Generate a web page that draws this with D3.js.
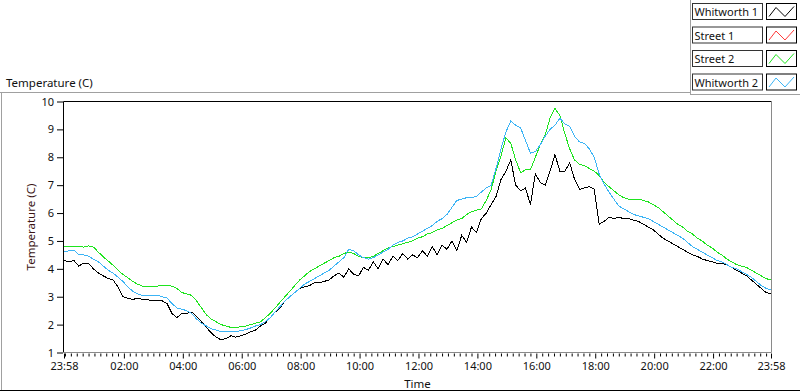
<!DOCTYPE html>
<html>
<head>
<meta charset="utf-8">
<script src="https://cdn.jsdelivr.net/npm/d3@7"></script>
<style>
  body { margin: 0; background: #fff; }
  svg { display: block; }
  text { font-family: "Noto Sans", "Open Sans", sans-serif; }
</style>
</head>
<body>
<svg id="chart" width="800" height="392"></svg>
<script>
/* logged temperatures, one reading every 10 minutes from 23:58 */
const stepMinutes = 10;

const whitworth1 = [
  4.3, 4.25, 4.3, 4.1, 4.2, 4.2, 4.0, 3.85, 3.75, 3.65, 3.6, 3.35, 3.0, 2.95, 2.9, 2.95,
  2.9, 2.9, 2.85, 2.85, 2.85, 2.75, 2.4, 2.25, 2.4, 2.4, 2.45, 2.3, 2.1, 1.9, 1.7, 1.55,
  1.45, 1.5, 1.6, 1.55, 1.6, 1.65, 1.75, 1.8, 1.95, 2.05, 2.25, 2.45, 2.6, 2.85, 3.0, 3.15,
  3.3, 3.35, 3.4, 3.5, 3.5, 3.55, 3.6, 3.75, 3.85, 3.7, 4.0, 3.8, 3.75, 4.05, 3.95, 4.25,
  4.0, 4.35, 4.15, 4.45, 4.3, 4.55, 4.35, 4.5, 4.4, 4.65, 4.45, 4.8, 4.5, 4.85, 4.7, 5.0,
  4.65, 5.2, 4.95, 5.5, 5.3, 5.8, 6.0, 6.3, 6.6, 7.2, 7.5, 7.9, 7.0, 6.8, 6.9, 6.3,
  7.4, 7.1, 7.0, 7.5, 8.1, 7.5, 7.5, 7.8, 7.2, 6.85, 6.9, 6.95, 6.85, 5.6, 5.7, 5.85,
  5.8, 5.85, 5.8, 5.8, 5.75, 5.7, 5.6, 5.5, 5.4, 5.25, 5.1, 5.0, 4.9, 4.8, 4.7, 4.6,
  4.5, 4.45, 4.35, 4.3, 4.25, 4.2, 4.2, 4.15, 4.05, 3.95, 3.85, 3.75, 3.6, 3.45, 3.3, 3.15,
  3.1
];

const street1 = [];

const street2 = [
  4.8, 4.8, 4.8, 4.8, 4.78, 4.82, 4.78, 4.6, 4.43, 4.28, 4.13, 3.95, 3.8, 3.68, 3.55, 3.45,
  3.38, 3.36, 3.35, 3.38, 3.4, 3.4, 3.38, 3.3, 3.15, 3.1, 3.05, 2.85, 2.6, 2.35, 2.2, 2.1,
  2.0, 1.95, 1.9, 1.9, 1.92, 1.95, 2.0, 2.05, 2.1, 2.25, 2.4, 2.6, 2.8, 3.0, 3.2, 3.4,
  3.6, 3.75, 3.9, 4.0, 4.1, 4.2, 4.3, 4.4, 4.45, 4.55, 4.6, 4.55, 4.45, 4.4, 4.4, 4.45,
  4.55, 4.65, 4.75, 4.8, 4.85, 4.9, 4.95, 5.0, 5.1, 5.15, 5.25, 5.3, 5.4, 5.45, 5.55, 5.65,
  5.75, 5.8, 5.95, 6.05, 6.1, 6.15, 6.45, 6.85, 7.5, 8.05, 8.7, 8.5, 7.9, 7.45, 7.55, 7.55,
  8.0, 8.45, 8.8, 9.4, 9.75, 9.5, 8.85, 8.3, 7.9, 7.75, 7.7, 7.6, 7.5, 7.35, 7.1, 6.95,
  6.8, 6.65, 6.55, 6.5, 6.5, 6.5, 6.45, 6.4, 6.3, 6.2, 6.05, 5.9, 5.75, 5.6, 5.5, 5.35,
  5.25, 5.1, 5.0, 4.85, 4.75, 4.6, 4.5, 4.35, 4.25, 4.15, 4.1, 4.05, 3.95, 3.85, 3.75, 3.65,
  3.6
];

const whitworth2 = [
  4.6, 4.65, 4.67, 4.5, 4.5, 4.45, 4.35, 4.25, 4.1, 3.95, 3.85, 3.7, 3.55, 3.35, 3.2, 3.1,
  3.05, 3.05, 3.05, 3.05, 3.0, 2.95, 2.75, 2.6, 2.55, 2.5, 2.4, 2.2, 2.05, 1.95, 1.85, 1.8,
  1.75, 1.75, 1.75, 1.75, 1.78, 1.82, 1.88, 1.95, 2.0, 2.1, 2.25, 2.45, 2.65, 2.85, 3.0, 3.15,
  3.3, 3.45, 3.55, 3.65, 3.75, 3.85, 3.95, 4.1, 4.25, 4.4, 4.7, 4.65, 4.5, 4.4, 4.35, 4.4,
  4.5, 4.6, 4.7, 4.85, 4.95, 5.0, 5.1, 5.15, 5.25, 5.35, 5.45, 5.55, 5.7, 5.8, 5.95, 6.2,
  6.45, 6.5, 6.55, 6.55, 6.6, 6.75, 6.9, 7.0, 7.6, 8.3, 8.9, 9.3, 9.15, 9.05, 8.6, 8.15,
  8.2, 8.45, 8.75, 9.0, 9.15, 9.4, 9.2, 9.1, 8.75, 8.55, 8.5, 8.3, 8.0, 7.4, 7.05, 6.75,
  6.5, 6.25, 6.15, 6.05, 5.95, 5.9, 5.85, 5.8, 5.7, 5.6, 5.5, 5.4, 5.3, 5.2, 5.1, 4.95,
  4.8, 4.7, 4.6, 4.5, 4.4, 4.3, 4.25, 4.15, 4.05, 4.0, 3.9, 3.8, 3.7, 3.55, 3.4, 3.3,
  3.25
];

const seriesNames = ["Whitworth 1", "Street 1", "Street 2", "Whitworth 2"];
const seriesColors = ["#000000", "#ff3a3a", "#1ee41e", "#3cb4f5"];
const seriesData = [whitworth1, street1, street2, whitworth2];

/* x axis: minutes after 23:58 */
const timeTicks = [0, 122, 242, 362, 482, 602, 722, 842, 962, 1082, 1202, 1322, 1440];
const timeLabels = ["23:58", "02:00", "04:00", "06:00", "08:00", "10:00", "12:00",
                    "14:00", "16:00", "18:00", "20:00", "22:00", "23:58"];
const tempTicks = [1, 2, 3, 4, 5, 6, 7, 8, 9, 10];

const plot = { left: 64, right: 771, top: 101.5, bottom: 352.5 };

const svg = d3.select("#chart");

const x = d3.scaleLinear().domain([0, 1440]).range([plot.left, plot.right]);
const y = d3.scaleLinear().domain([1, 10]).range([plot.bottom, plot.top]);

/* outer frame */
svg.append("line").attr("x1", 0).attr("x2", 690).attr("y1", 92.5).attr("y2", 92.5)
  .attr("stroke", "#a0a0a0");
svg.append("line").attr("x1", 1.5).attr("x2", 1.5).attr("y1", 92.5).attr("y2", 390)
  .attr("stroke", "#a0a0a0");
svg.append("line").attr("x1", 0).attr("x2", 800).attr("y1", 390.5).attr("y2", 390.5)
  .attr("stroke", "#000");
svg.append("line").attr("x1", 690.5).attr("x2", 690.5).attr("y1", 0).attr("y2", 95)
  .attr("stroke", "#a0a0a0");
svg.append("line").attr("x1", 690).attr("x2", 800).attr("y1", 94.5).attr("y2", 94.5)
  .attr("stroke", "#a0a0a0");

svg.append("text")
  .attr("x", 6).attr("y", 87)
  .attr("font-size", 11.5).attr("fill", "#111")
  .text("Temperature (C)");

/* plot area border */
svg.append("line").attr("x1", plot.left - 0.5).attr("x2", plot.right + 0.5)
  .attr("y1", plot.top).attr("y2", plot.top).attr("stroke", "#000");
svg.append("line").attr("x1", plot.left - 0.5).attr("x2", plot.left - 0.5)
  .attr("y1", plot.top).attr("y2", plot.bottom).attr("stroke", "#000");
svg.append("line").attr("x1", plot.right + 0.5).attr("x2", plot.right + 0.5)
  .attr("y1", plot.top).attr("y2", plot.bottom).attr("stroke", "#8a8a8a");
svg.append("line").attr("x1", plot.left - 0.5).attr("x2", plot.right + 0.5)
  .attr("y1", plot.bottom).attr("y2", plot.bottom).attr("stroke", "#8a8a8a");

/* y axis */
const yAxis = svg.append("g")
  .attr("transform", `translate(${plot.left - 1},0)`)
  .call(d3.axisLeft(y).tickValues(tempTicks).tickSize(6).tickPadding(3));
yAxis.select(".domain").remove();
yAxis.selectAll("line").attr("stroke", "#000");
yAxis.selectAll("text")
  .attr("font-family", "Noto Sans").attr("font-size", 11).attr("fill", "#111");

/* x axis: minor ticks every 12 minutes, major ticks with labels */
const minorTicks = d3.range(2, 1440, 12).filter(m => !timeTicks.includes(m));
const xMinor = svg.append("g")
  .attr("transform", `translate(0,${plot.bottom + 1})`)
  .call(d3.axisBottom(x).tickValues(minorTicks).tickSize(3).tickFormat(""));
xMinor.select(".domain").remove();
xMinor.selectAll("line").attr("stroke", "#000");

const xAxis = svg.append("g")
  .attr("transform", `translate(0,${plot.bottom + 1})`)
  .call(d3.axisBottom(x).tickValues(timeTicks).tickSize(5).tickPadding(4)
    .tickFormat((d, i) => timeLabels[i]));
xAxis.select(".domain").remove();
xAxis.selectAll("line").attr("stroke", "#000");
xAxis.selectAll("text")
  .attr("font-family", "Noto Sans").attr("font-size", 11).attr("fill", "#111");

svg.append("text")
  .attr("x", (plot.left + plot.right) / 2).attr("y", 388)
  .attr("text-anchor", "middle")
  .attr("font-size", 11.5).attr("fill", "#111")
  .text("Time");

svg.append("text")
  .attr("transform", `translate(35,${(plot.top + plot.bottom) / 2}) rotate(-90)`)
  .attr("text-anchor", "middle")
  .attr("font-size", 11.5).attr("fill", "#3a1414")
  .text("Temperature (C)");

/* data lines, first plot drawn first */
const line = d3.line()
  .x((d, i) => x(i * stepMinutes))
  .y(d => y(d));

svg.append("g")
  .selectAll("path")
  .data(seriesData)
  .join("path")
  .attr("d", d => d.length ? line(d) : null)
  .attr("fill", "none")
  .attr("stroke", (d, i) => seriesColors[i])
  .attr("stroke-width", 1)
  .attr("shape-rendering", "crispEdges");

/* legend */
const legend = svg.append("g").attr("class", "legend");
seriesNames.forEach((name, i) => {
  const top = 3.5 + i * 23.5;
  const row = legend.append("g").attr("transform", `translate(0,${top})`);
  row.append("rect")
    .attr("x", 692.5).attr("y", 0).attr("width", 70).attr("height", 16)
    .attr("fill", "#fff").attr("stroke", "#333");
  row.append("text")
    .attr("x", 694.5).attr("y", 12.5)
    .attr("font-size", 11).attr("fill", "#111")
    .text(name);
  row.append("rect")
    .attr("x", 766.5).attr("y", 0).attr("width", 30).attr("height", 16)
    .attr("fill", "#fff").attr("stroke", "#000");
  row.append("path")
    .attr("d", "M769,13 L776,4 L785,13 L794,3")
    .attr("fill", "none")
    .attr("stroke", seriesColors[i]);
});
</script>
</body>
</html>
